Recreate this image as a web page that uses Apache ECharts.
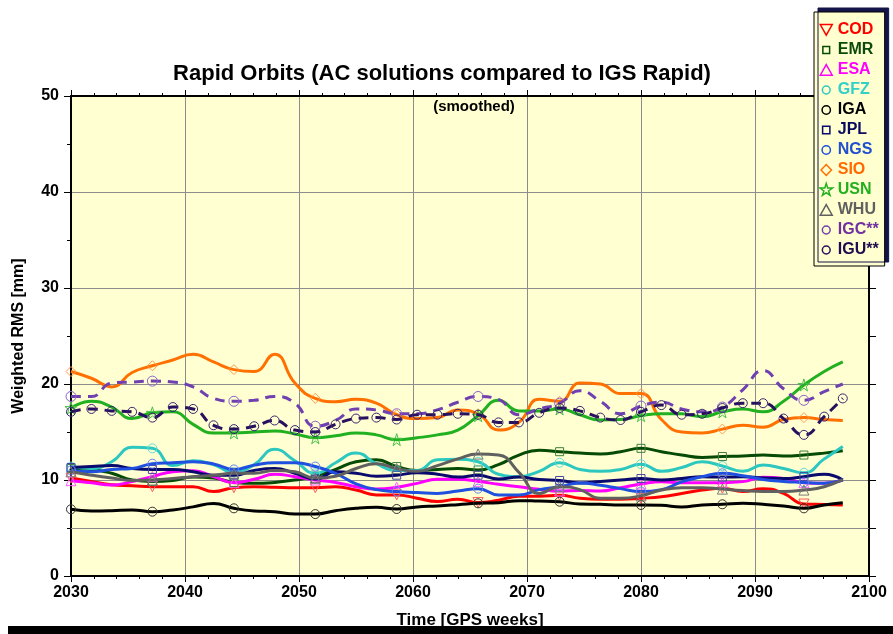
<!DOCTYPE html>
<html>
<head>
<meta charset="utf-8">
<script src="https://cdn.jsdelivr.net/npm/echarts@6/dist/echarts.min.js"></script>
<style>
  html, body { margin: 0; padding: 0; background: #ffffff; }
  #chart { width: 893px; height: 634px; }
</style>
</head>
<body>
<div id="chart"></div>
<script>
// GPS weeks of the smoothed samples (12.5-day spacing)
const weeks = [2030, 2031.79, 2033.57, 2035.36, 2037.14, 2038.93, 2040.71, 2042.5, 2044.29, 2046.07,
  2047.86, 2049.64, 2051.43, 2053.21, 2055, 2056.79, 2058.57, 2060.36, 2062.14, 2063.93,
  2065.71, 2067.5, 2069.29, 2071.07, 2072.86, 2074.64, 2076.43, 2078.21, 2080, 2081.79,
  2083.57, 2085.36, 2087.14, 2088.93, 2090.71, 2092.5, 2094.29, 2096.07, 2097.7];

// Weighted RMS [mm] per analysis centre
const cod = [10.2, 9.85, 9.5, 9.4, 9.3, 9.3, 9.3, 8.8, 9.2, 9.3, 9.25, 9.2, 9.2, 9.3, 8.95, 8.45, 8.45, 8.1, 7.75, 8.0,
  7.65, 7.9, 8.3, 8.3, 8.4, 8.1, 8.0, 8.0, 8.1, 8.25, 8.6, 8.95, 9.15, 8.8, 9.1, 8.6, 7.5, 7.45, 7.4];
const emr = [11.2, 11.1, 10.7, 10.0, 9.85, 9.95, 10.3, 10.2, 9.75, 9.65, 9.75, 10.0, 10.4, 11.1, 11.9, 12.1, 11.4, 11.0, 11.1, 11.2,
  11.05, 11.6, 12.6, 13.1, 12.95, 12.8, 12.7, 12.95, 13.3, 12.95, 12.6, 12.35, 12.45, 12.5, 12.6, 12.5, 12.6, 12.8, 13.05];
const esa = [9.93, 9.72, 9.48, 9.83, 10.35, 10.87, 10.97, 10.35, 9.72, 10.07, 10.6, 10.35, 10.0, 9.75, 9.3, 9.06, 9.24, 9.65, 10.07, 10.07,
  9.86, 9.55, 9.3, 9.03, 8.85, 8.9, 8.85, 9.2, 9.58, 9.83, 9.72, 9.72, 9.72, 9.83, 10.28, 10.17, 9.72, 9.65, 10.0];
const gfz = [11.4, 11.2, 11.9, 13.4, 13.3, 11.5, 12.0, 11.6, 10.8, 11.6, 13.2, 12.0, 10.7, 11.8, 12.8, 11.7, 11.0, 11.0, 12.1, 12.15,
  11.9, 10.6, 10.35, 10.9, 11.8, 11.1, 10.9, 11.1, 11.65, 10.9, 11.3, 11.9, 11.45, 10.9, 11.55, 11.2, 10.75, 12.2, 13.5];
const iga = [6.95, 6.77, 6.8, 6.88, 6.7, 6.88, 7.2, 7.55, 7.05, 6.77, 6.7, 6.45, 6.45, 6.8, 7.05, 7.15, 6.98, 7.2, 7.3, 7.43,
  7.57, 7.64, 7.85, 7.8, 7.74, 7.5, 7.47, 7.4, 7.4, 7.36, 7.2, 7.4, 7.47, 7.57, 7.47, 7.3, 7.05, 7.4, 7.64];
const jpl = [11.3, 11.4, 11.5, 11.2, 11.1, 11.1, 10.85, 10.5, 10.5, 11.0, 11.2, 10.7, 10.1, 10.85, 10.7, 10.4, 10.5, 10.75, 10.6, 10.3,
  10.5, 10.1, 10.3, 10.05, 9.95, 9.7, 9.85, 10.0, 10.15, 10.0, 10.15, 10.35, 10.3, 10.35, 10.2, 10.15, 10.35, 10.6, 10.0];
const ngs = [11.0, 10.85, 11.1, 11.2, 11.7, 11.8, 11.9, 11.67, 11.1, 11.55, 11.8, 11.8, 11.4, 10.7, 9.6, 9.0, 8.8, 8.7, 8.6, 8.85,
  9.1, 8.45, 8.45, 9.0, 9.3, 9.7, 9.45, 9.1, 8.8, 9.0, 9.8, 10.35, 10.7, 10.45, 10.05, 9.85, 9.75, 9.65, 10.0];
const sio = [21.3, 20.6, 19.7, 21.2, 21.9, 22.5, 23.1, 22.3, 21.5, 21.3, 23.1, 20.1, 18.5, 18.15, 18.4, 18.0, 16.8, 16.4, 16.5, 17.3,
  16.9, 15.2, 16.0, 18.4, 18.2, 20.1, 20.0, 19.0, 19.0, 16.3, 15.0, 14.9, 15.3, 15.7, 15.5, 16.3, 16.5, 16.3, 16.2];
const usn = [17.5, 18.2, 17.6, 16.4, 17.0, 17.1, 15.8, 14.9, 14.9, 15.0, 15.1, 14.8, 14.4, 14.6, 14.9, 14.7, 14.2, 14.4, 14.7, 15.2,
  16.7, 18.3, 17.2, 17.2, 17.4, 16.8, 16.25, 16.3, 16.7, 16.9, 16.9, 16.6, 17.1, 17.4, 17.1, 18.2, 19.9, 21.3, 22.3];
const whu = [10.85, 10.5, 10.2, 9.95, 10.0, 10.15, 10.35, 10.5, 10.7, 10.7, 11.0, 10.85, 10.2, 10.4, 11.2, 11.7, 11.2, 10.9, 11.5, 12.2,
  12.7, 12.6, 10.8, 8.6, 9.3, 9.0, 8.1, 8.1, 8.35, 8.95, 9.2, 9.2, 9.05, 8.9, 8.8, 8.8, 8.95, 9.3, 10.05];
const igc = [18.7, 18.7, 20.1, 20.2, 20.3, 20.2, 19.7, 18.5, 18.2, 18.3, 18.7, 18.0, 15.6, 16.2, 17.4, 17.3, 16.9, 16.9, 17.3, 18.1,
  18.7, 18.4, 16.8, 17.4, 18.0, 19.3, 18.2, 16.9, 17.7, 18.1, 17.4, 17.1, 17.6, 19.4, 21.4, 19.5, 18.3, 19.2, 20.0];
const igu = [17.1, 17.4, 17.2, 17.1, 16.5, 17.6, 17.4, 15.7, 15.3, 15.6, 16.2, 15.2, 15.0, 15.8, 16.4, 16.5, 16.3, 16.8, 16.8, 16.9,
  16.8, 16.0, 16.0, 17.0, 17.5, 17.2, 16.5, 16.25, 17.1, 17.8, 16.8, 16.9, 17.5, 18.0, 18.0, 16.4, 14.7, 16.6, 18.5];

// Axis ticks
const xTicks = { min: 2030, max: 2100, step: 10 };
const yTicks = { min: 0, max: 50, step: 10 };
const refLevel = 5;   // extra horizontal reference line [mm]

const FONT = '"Liberation Sans", Arial, Helvetica, sans-serif';

// Plot marker shapes
const TRI_DOWN = 'path://M0,0 L100,0 L50,87 Z';
const STAR = 'path://M50,0 L61,35 L98,35 L68,57 L79,91 L50,70 L21,91 L32,57 L2,35 L39,35 Z';

// Legend icon shapes in a 100x100 frame (the frame corners keep the sizes comparable)
const FRAME = 'M0,0 M100,100 ';
function circleIcon(r) {
  return 'path://' + FRAME + 'M' + (50 - r) + ',50 A' + r + ',' + r + ' 0 1,0 ' + (50 + r) + ',50 A' + r + ',' + r + ' 0 1,0 ' + (50 - r) + ',50 Z';
}
function squareIcon(h) {
  return 'path://' + FRAME + 'M' + (50 - h) + ',' + (50 - h) + ' L' + (50 + h) + ',' + (50 - h) + ' L' + (50 + h) + ',' + (50 + h) + ' L' + (50 - h) + ',' + (50 + h) + ' Z';
}
const ICON_TRI_DOWN = 'path://' + FRAME + 'M4,8 L96,8 L50,90 Z';
const ICON_TRI_UP = 'path://' + FRAME + 'M50,8 L96,90 L4,90 Z';
const ICON_DIAMOND = 'path://' + FRAME + 'M50,8 L90,50 L50,92 L10,50 Z';
const ICON_STAR = 'path://' + FRAME + 'M50,0 L61,35 L98,35 L68,57 L79,91 L50,70 L21,91 L32,57 L2,35 L39,35 Z';

const centres = [
  { name: 'COD',   values: cod, line: '#ff0000', mark: '#ff5a5a', text: '#ff0000', symbol: TRI_DOWN, size: 10, every: 4, icon: ICON_TRI_DOWN },
  { name: 'EMR',   values: emr, line: '#054a05', mark: '#3f7f3f', text: '#0a4a0a', symbol: 'rect', size: 8, every: 4, icon: squareIcon(26) },
  { name: 'ESA',   values: esa, line: '#ff00ff', mark: '#ff5cff', text: '#ff00ff', symbol: 'triangle', size: 10, every: 4, icon: ICON_TRI_UP },
  { name: 'GFZ',   values: gfz, line: '#2cc8c0', mark: '#62dcd6', text: '#30d0c8', symbol: 'circle', size: 9, every: 4, icon: circleIcon(30) },
  { name: 'IGA',   values: iga, line: '#000000', mark: '#303030', text: '#000000', symbol: 'circle', size: 9, every: 4, icon: circleIcon(32) },
  { name: 'JPL',   values: jpl, line: '#0a0a6e', mark: '#4545a0', text: '#0a0a60', symbol: 'rect', size: 8, every: 4, icon: squareIcon(28) },
  { name: 'NGS',   values: ngs, line: '#2050e0', mark: '#6585f0', text: '#2050d0', symbol: 'circle', size: 9, every: 4, icon: circleIcon(32) },
  { name: 'SIO',   values: sio, line: '#ff7000', mark: '#ff9a50', text: '#ff6a00', symbol: 'diamond', size: 10, every: 4, icon: ICON_DIAMOND },
  { name: 'USN',   values: usn, line: '#20b020', mark: '#45c045', text: '#20b020', symbol: STAR, size: 12, every: 4, icon: ICON_STAR },
  { name: 'WHU',   values: whu, line: '#606060', mark: '#7a7a7a', text: '#606060', symbol: 'triangle', size: 10, every: 4, icon: ICON_TRI_UP },
  { name: 'IGC**', values: igc, line: '#7040b0', mark: '#8a62c8', text: '#7030a0', symbol: 'circle', size: 10, every: 4, dashed: true, icon: circleIcon(30) },
  { name: 'IGU**', values: igu, line: '#28105e', mark: '#3a2470', text: '#200a50', symbol: 'circle', size: 9, every: 1, dashed: true, icon: circleIcon(30) }
];

const series = centres.map(function (c, k) {
  const data = weeks.map(function (w, i) {
    return { value: [w, c.values[i]], symbol: (i % c.every === 0) ? c.symbol : 'none' };
  });
  const s = {
    name: c.name,
    type: 'line',
    data: data,
    smooth: 0.5,
    showSymbol: true,
    symbolSize: c.size,
    z: 2 + k,
    lineStyle: { color: c.line, width: 3, type: c.dashed ? [10, 7] : 'solid' },
    itemStyle: { color: 'rgba(0,0,0,0)', borderColor: c.mark, borderWidth: 1 },
    emphasis: { disabled: true },
    animation: false
  };
  if (k === 0) {
    s.markLine = {
      silent: true,
      symbol: 'none',
      label: { show: false },
      lineStyle: { color: '#8c8c8c', width: 1, type: 'solid' },
      data: [{ yAxis: refLevel }],
      z: 1
    };
  }
  return s;
});

const legendData = centres.map(function (c) {
  return {
    name: c.name,
    icon: c.icon,
    itemStyle: { color: 'rgba(0,0,0,0)', borderColor: c.line, borderWidth: 1.5 },
    textStyle: { color: c.text }
  };
});

const gridLine = { show: true, lineStyle: { color: '#8c8c8c', width: 1 } };
const axisLine = { show: true, onZero: false, lineStyle: { color: '#000000', width: 2 } };
const labelFont = { fontFamily: FONT, fontWeight: 'bold', color: '#000000' };

const option = {
  backgroundColor: '#ffffff',
  animation: false,
  textStyle: { fontFamily: FONT },
  title: [
    { text: 'Rapid Orbits (AC solutions compared to IGS Rapid)', left: 442, top: 63, textAlign: 'center', padding: 0,
      textStyle: Object.assign({ fontSize: 22 }, labelFont) },
    { text: '(smoothed)', left: 474, top: 99, textAlign: 'center', padding: 0,
      textStyle: Object.assign({ fontSize: 15 }, labelFont) }
  ],
  grid: { left: 71, right: 24, top: 96, bottom: 58, show: true, backgroundColor: '#ffffd2', borderWidth: 0 },
  legend: {
    orient: 'vertical', left: 814, top: 12,
    padding: [10, 6, 8, 5], itemGap: 4, itemWidth: 13, itemHeight: 13, itemTextGap: 6,
    backgroundColor: '#ffffd0', borderColor: '#000000', borderWidth: 1,
    shadowColor: '#14144a', shadowBlur: 0, shadowOffsetX: 4, shadowOffsetY: -4,
    selectedMode: false,
    textStyle: { fontFamily: FONT, fontWeight: 'bold', fontSize: 16, lineHeight: 16 },
    data: legendData
  },
  xAxis: [
    { type: 'value', position: 'bottom', min: xTicks.min, max: xTicks.max, interval: xTicks.step,
      axisLine: axisLine, axisTick: { show: true, length: 6, lineStyle: { color: '#000', width: 1 } },
      minorTick: { show: true, splitNumber: 5, length: 3, lineStyle: { color: '#000', width: 1 } },
      splitLine: gridLine,
      axisLabel: Object.assign({ fontSize: 16, margin: 9, formatter: function (v) { return String(v); } }, labelFont),
      name: 'Time [GPS weeks]', nameLocation: 'middle', nameGap: 36,
      nameTextStyle: Object.assign({ fontSize: 17 }, labelFont) },
    { type: 'value', position: 'top', min: xTicks.min, max: xTicks.max, interval: xTicks.step,
      axisLine: axisLine, axisTick: { show: true, length: 6, lineStyle: { color: '#000', width: 1 } },
      minorTick: { show: true, splitNumber: 5, length: 3, lineStyle: { color: '#000', width: 1 } },
      splitLine: { show: false }, axisLabel: { show: false } }
  ],
  yAxis: [
    { type: 'value', position: 'left', min: yTicks.min, max: yTicks.max, interval: yTicks.step,
      axisLine: axisLine, axisTick: { show: true, length: 7, lineStyle: { color: '#000', width: 1 } },
      minorTick: { show: true, splitNumber: 2, length: 4, lineStyle: { color: '#000', width: 1 } },
      splitLine: gridLine,
      axisLabel: Object.assign({ fontSize: 16, margin: 12 }, labelFont),
      name: 'Weighted RMS [mm]', nameLocation: 'middle', nameGap: 44, nameRotate: 90,
      nameTextStyle: Object.assign({ fontSize: 16 }, labelFont) },
    { type: 'value', position: 'right', min: yTicks.min, max: yTicks.max, interval: 5,
      axisLine: axisLine, axisTick: { show: true, length: 7, lineStyle: { color: '#000', width: 1 } },
      splitLine: { show: false }, axisLabel: { show: false } }
  ],
  graphic: [
    { type: 'rect', left: 8, top: 626, shape: { width: 885, height: 8 }, style: { fill: '#000000' }, z: 100 }
  ],
  series: series
};

const chart = echarts.init(document.getElementById('chart'), null, { renderer: 'canvas' });
chart.setOption(option);
</script>
</body>
</html>
